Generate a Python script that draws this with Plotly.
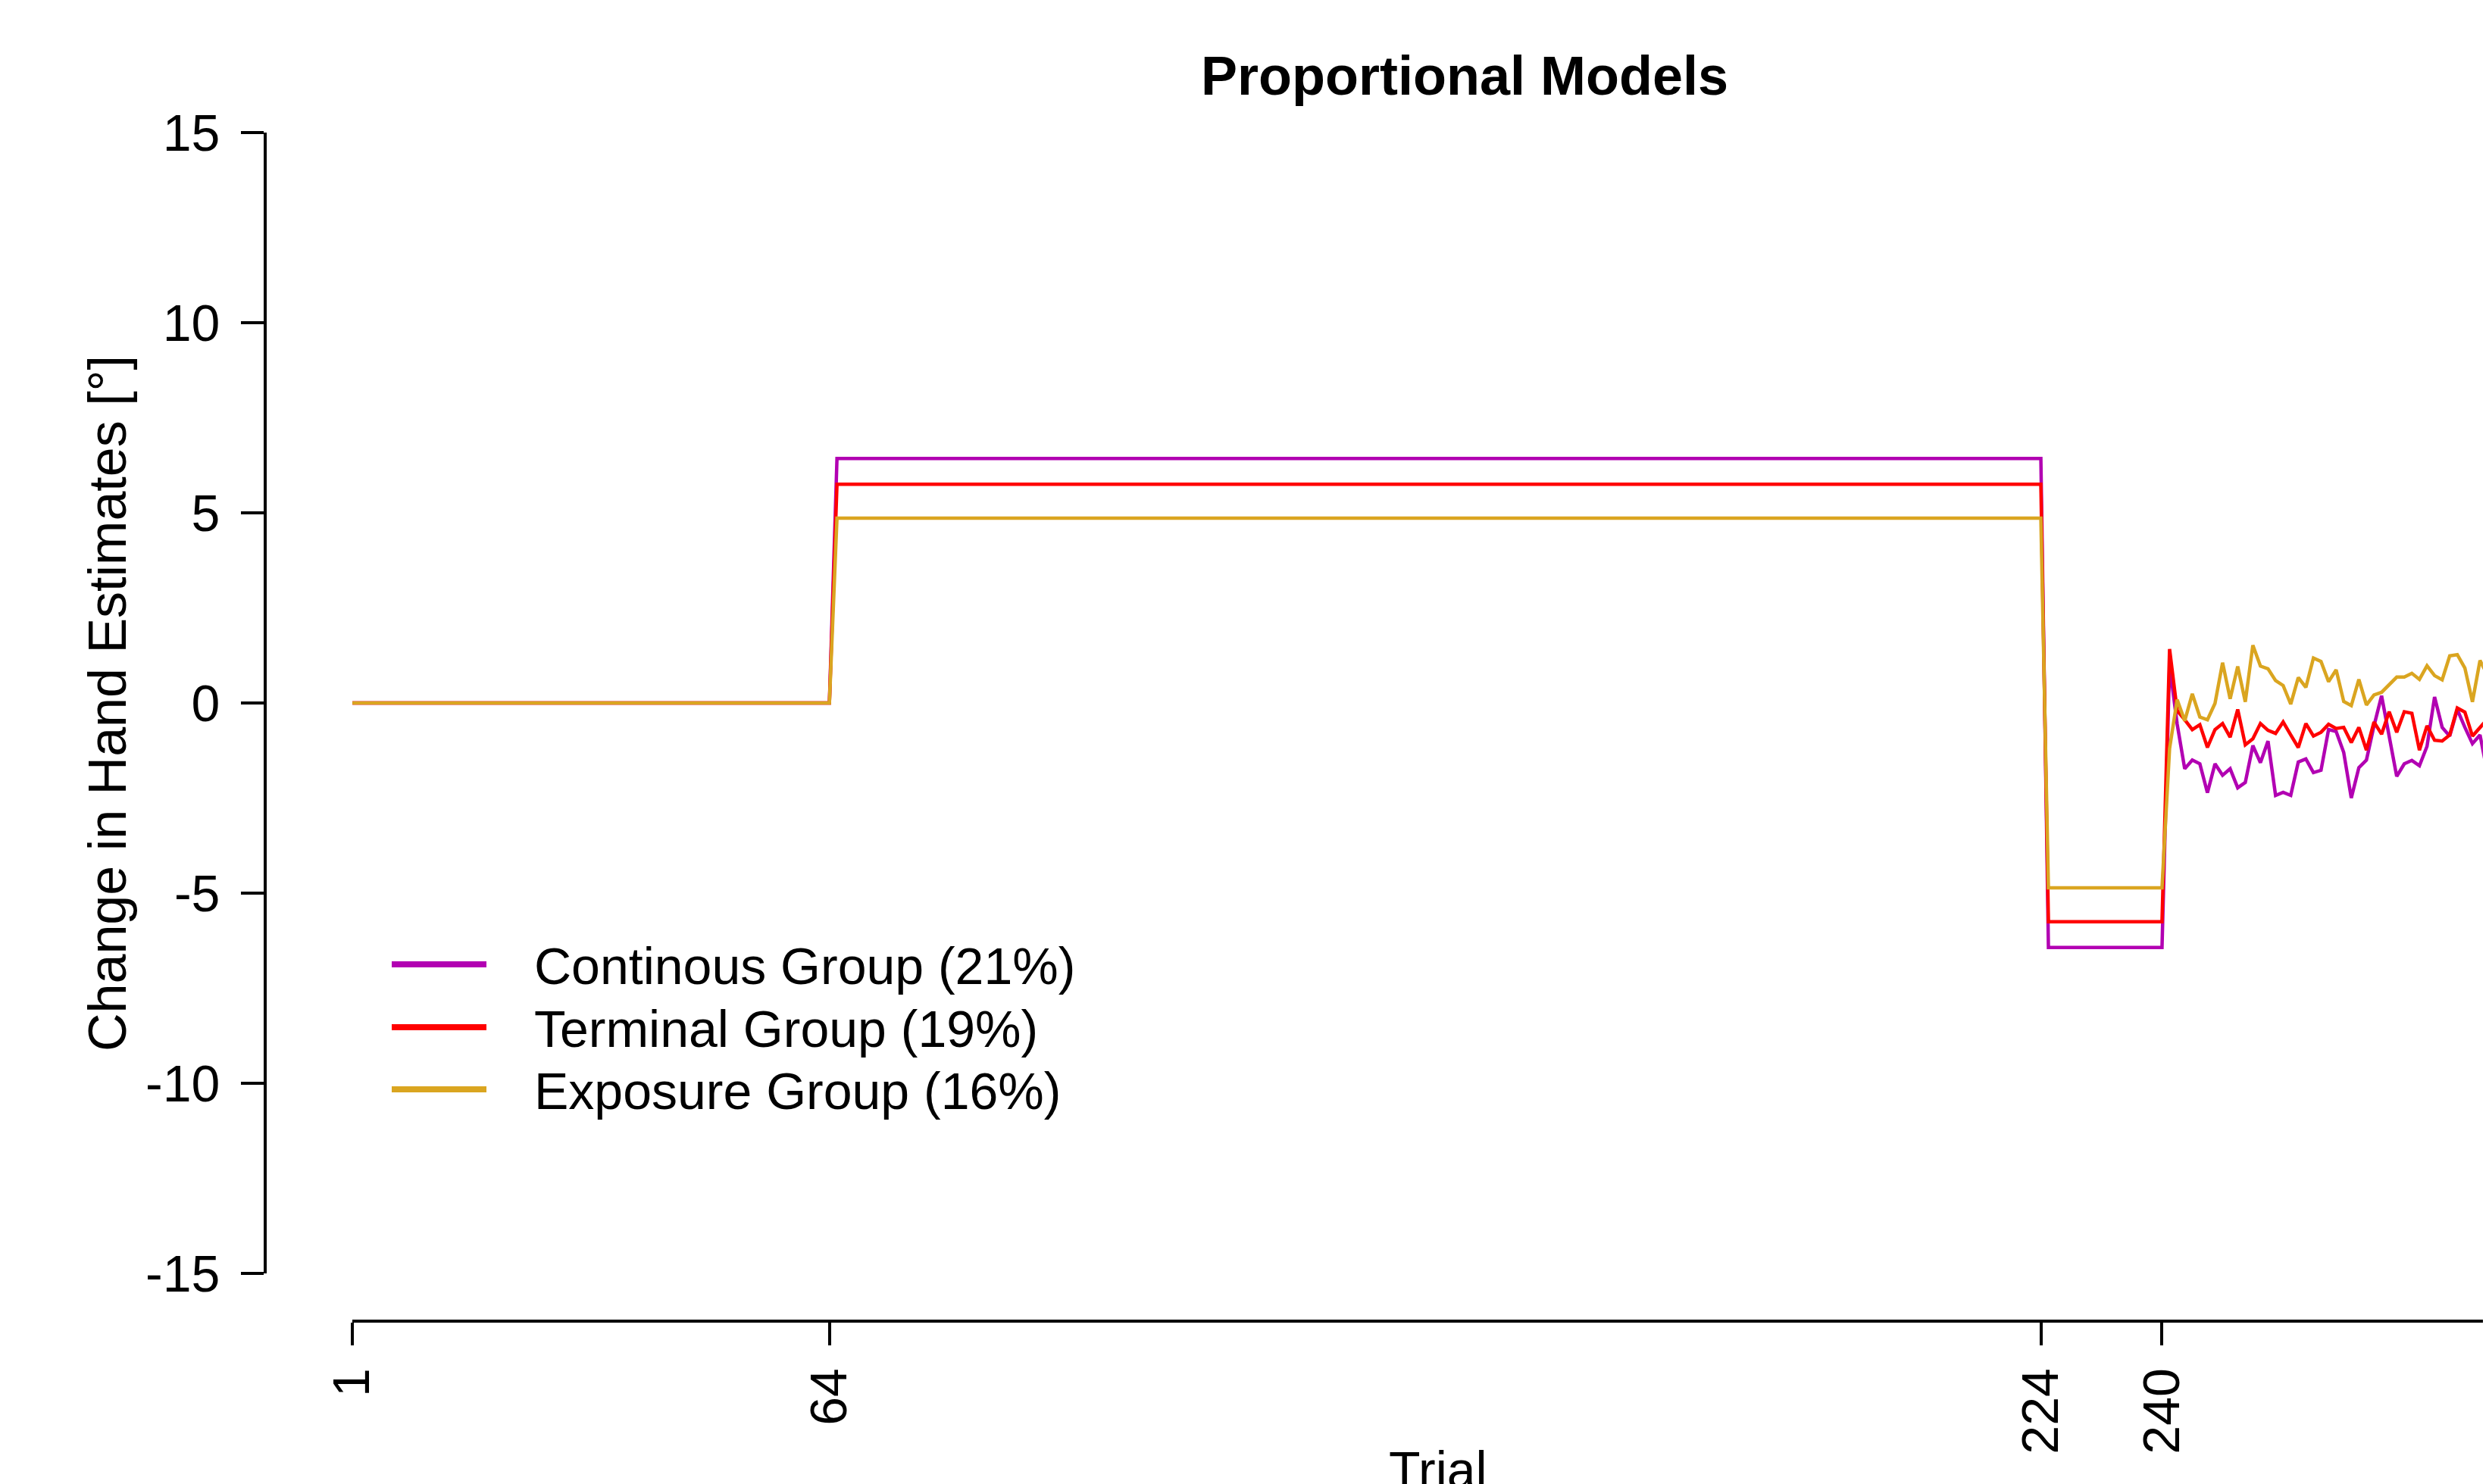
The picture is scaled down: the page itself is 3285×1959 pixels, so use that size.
import plotly.graph_objects as go

W, H = 3285, 1959
OFF = 8  # page offset of the figure (body margin)
FONT = "Liberation Sans, Arial, sans-serif"

# ---- data ----
group_names = ["Continous Group (21%)", "Terminal Group (19%)", "Exposure Group (16%)"]
group_colors = ["#B200B2", "#FF0000", "#DAA520"]

n_aligned = 64        # trials 1-64
n_rotated = 160       # trials 65-224
n_reversed = 16       # trials 225-240

rotated_level = [6.43, 5.75, 4.86]   # change in hand estimates during rotation
reversed_level = [-6.43, -5.75, -4.86]

# trials 241-283 (clamp phase, visible part)
cont_clamp = [1.0, -0.55, -1.73, -1.50, -1.60, -2.36, -1.60, -1.90, -1.73, -2.23,
              -2.09, -1.12, -1.57, -1.00, -2.43, -2.35, -2.43, -1.55, -1.47, -1.83,
              -1.77, -0.70, -0.75, -1.30, -2.50, -1.70, -1.50, -0.60, 0.19, -0.90,
              -1.93, -1.60, -1.51, -1.65, -1.14, 0.16, -0.64, -0.87, -0.17, -0.64,
              -1.07, -0.84, -1.87]
term_clamp = [1.42, -0.20, -0.44, -0.70, -0.57, -1.17, -0.70, -0.54, -0.90, -0.17,
              -1.10, -0.94, -0.54, -0.72, -0.80, -0.50, -0.84, -1.17, -0.54, -0.87,
              -0.77, -0.56, -0.67, -0.64, -1.04, -0.64, -1.24, -0.50, -0.82, -0.23,
              -0.77, -0.23, -0.27, -1.24, -0.60, -0.98, -1.00, -0.84, -0.13, -0.24,
              -0.87, -0.65, -0.42]
expo_clamp = [-1.20, 0.09, -0.47, 0.24, -0.37, -0.44, -0.01, 1.06, 0.11, 0.96,
              0.03, 1.52, 0.97, 0.90, 0.59, 0.46, -0.03, 0.67, 0.41, 1.18,
              1.09, 0.56, 0.87, 0.04, -0.07, 0.62, -0.05, 0.21, 0.28, 0.48,
              0.68, 0.68, 0.78, 0.62, 0.98, 0.72, 0.61, 1.24, 1.27, 0.92,
              0.03, 1.12, 0.72]
clamp_values = [cont_clamp, term_clamp, expo_clamp]

x_ticks = [1, 64, 224, 240, 288]
y_ticks = [-15, -10, -5, 0, 5, 10, 15]

# ---- helpers (page pixel -> paper) ----
def px(x):
    return (x - OFF) / W

def py(y):
    return 1 - (y - OFF) / H

fig = go.Figure()

for i in range(3):
    series = ([0.0] * n_aligned + [rotated_level[i]] * n_rotated +
              [reversed_level[i]] * n_reversed + clamp_values[i])
    trials = list(range(1, len(series) + 1))
    fig.add_trace(go.Scatter(
        x=trials, y=series, mode="lines",
        line=dict(color=group_colors[i], width=4.5),
        name=group_names[i], showlegend=False, hoverinfo="skip",
    ))

px_per_trial = 9.993
x_right = 1 + (W + OFF - 465.1) / px_per_trial

fig.update_layout(
    width=W, height=H,
    margin=dict(l=0, r=0, t=0, b=0),
    paper_bgcolor="white", plot_bgcolor="white",
    font=dict(family=FONT, size=68, color="black"),
    xaxis=dict(
        domain=[px(465.1), 1.0], range=[1, x_right],
        anchor="free", position=py(1744),
        showline=True, linecolor="black", linewidth=4,
        ticks="outside", ticklen=30, tickwidth=4, tickcolor="black",
        tickmode="array", tickvals=x_ticks, ticktext=[str(v) for v in x_ticks],
        tickangle=-90, ticklabelstandoff=3,
        tickfont=dict(family=FONT, size=68, color="black"),
        showgrid=False, zeroline=False, automargin=False,
    ),
    yaxis=dict(
        domain=[py(1681), py(175)], range=[-15, 15],
        anchor="free", position=px(350),
        showline=True, linecolor="black", linewidth=4,
        ticks="outside", ticklen=30, tickwidth=4, tickcolor="black",
        tickmode="array", tickvals=y_ticks, ticktext=[str(v) for v in y_ticks],
        ticklabelstandoff=14,
        tickfont=dict(family=FONT, size=68, color="black"),
        showgrid=False, zeroline=False, automargin=False,
    ),
)

annotations = [
    dict(text="<b>Proportional Models</b>", x=px(1933), y=py(100), xref="paper", yref="paper",
         xanchor="center", yanchor="middle", showarrow=False,
         font=dict(family=FONT, size=72, color="black")),
    dict(text="Change in Hand Estimates [°]", x=px(142), y=py(929), xref="paper", yref="paper",
         xanchor="center", yanchor="middle", textangle=-90, showarrow=False,
         font=dict(family=FONT, size=70, color="black")),
    dict(text="Trial", x=px(1898), y=py(1940), xref="paper", yref="paper",
         xanchor="center", yanchor="middle", showarrow=False,
         font=dict(family=FONT, size=68, color="black")),
]

shapes = []
legend_y = [1273, 1356, 1438]
for i in range(3):
    shapes.append(dict(type="line", xref="paper", yref="paper",
                       x0=px(517), x1=px(642), y0=py(legend_y[i]), y1=py(legend_y[i]),
                       line=dict(color=group_colors[i], width=8)))
    annotations.append(dict(text=group_names[i], x=px(703), y=py(legend_y[i] + 2),
                            xref="paper", yref="paper", xanchor="left", yanchor="middle",
                            showarrow=False, font=dict(family=FONT, size=68, color="black")))

fig.update_layout(annotations=annotations, shapes=shapes)

fig.write_html("out.html")
